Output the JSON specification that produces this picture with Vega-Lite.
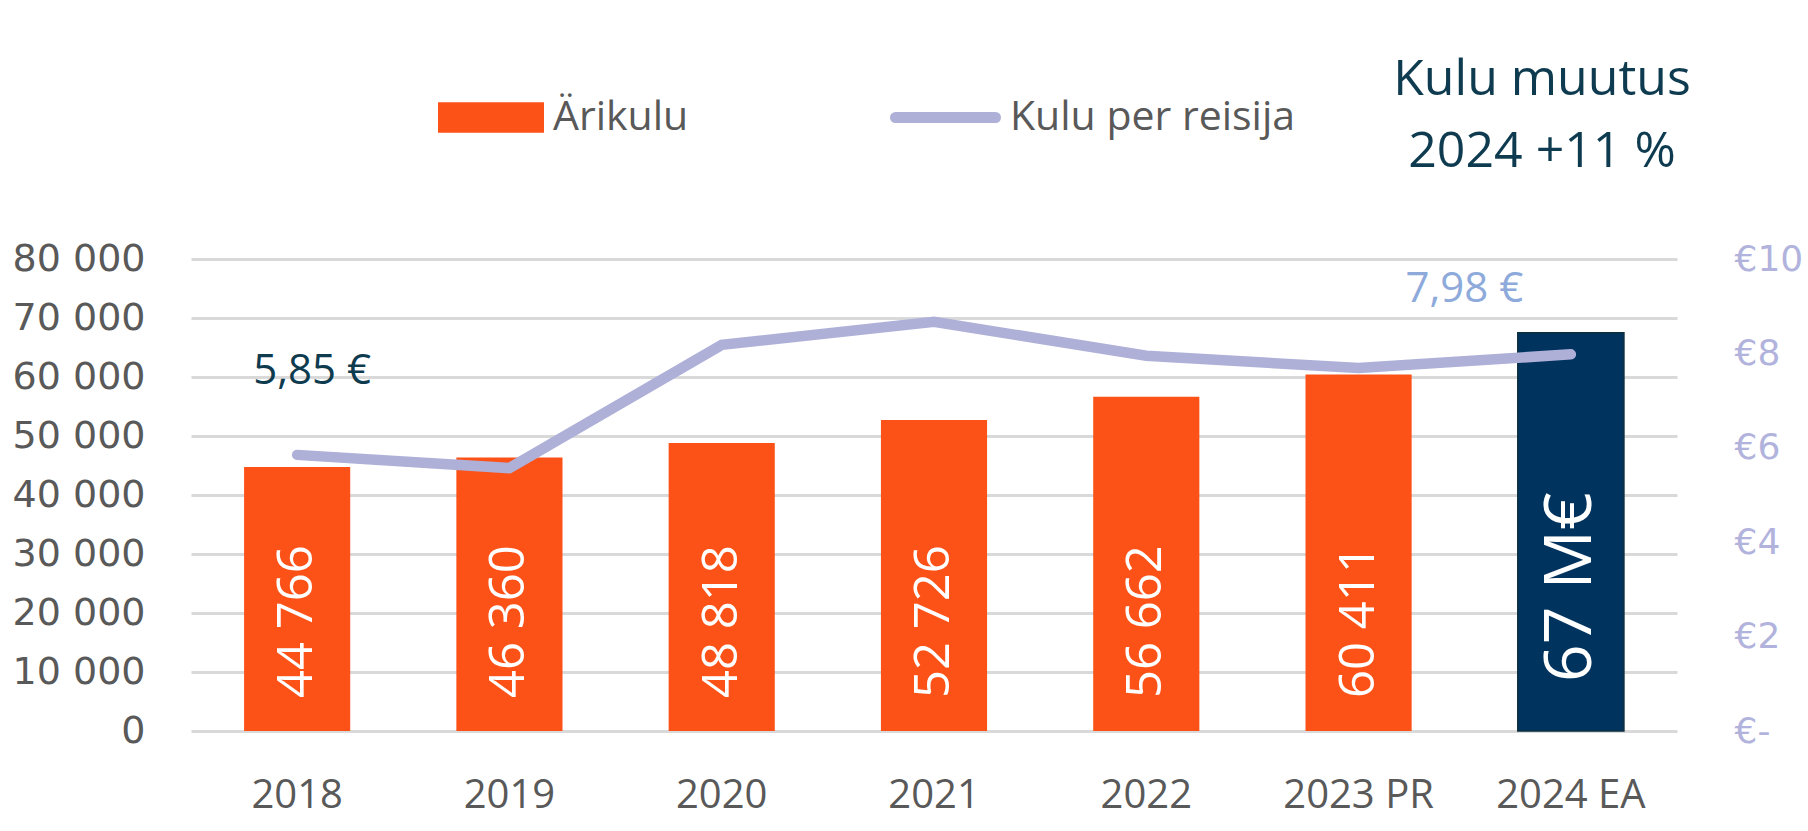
{
  "$schema": "https://vega.github.io/schema/vega-lite/v6.json",
  "autosize": {"type": "none"},
  "padding": {"left": 191, "top": 259, "right": 131, "bottom": 100},
  "width": 1486,
  "height": 472,
  "background": "white",
  "config": {
    "locale": {"number": {"decimal": ",", "thousands": " ", "grouping": [3], "currency": ["", " €"]}},
    "view": {"stroke": null}
  },
  "title": {
    "text": ["Kulu muutus", "2024 +11 %"],
    "anchor": "end",
    "frame": "group",
    "align": "center",
    "baseline": "bottom",
    "dx": -135,
    "dy": 165,
    "offset": 0,
    "font": "Open Sans",
    "fontSize": 50,
    "fontWeight": "normal",
    "color": "#0E3B4F",
    "lineHeight": 72
  },
  "data": {
    "values": [
      {"year": "2018", "arikulu": 44766, "per": 5.85},
      {"year": "2019", "arikulu": 46360, "per": 5.57},
      {"year": "2020", "arikulu": 48818, "per": 8.18},
      {"year": "2021", "arikulu": 52726, "per": 8.67},
      {"year": "2022", "arikulu": 56662, "per": 7.95},
      {"year": "2023 PR", "arikulu": 60411, "per": 7.69},
      {"year": "2024 EA", "arikulu": 67500, "per": 7.98}
    ]
  },
  "encoding": {
    "x": {
      "field": "year",
      "type": "nominal",
      "sort": null,
      "scale": {"paddingInner": 0.5, "paddingOuter": 0.25},
      "axis": {
        "title": null,
        "labelAngle": 0,
        "labelFont": "Open Sans",
        "labelFontSize": 40,
        "labelColor": "#595959",
        "labelPadding": 44,
        "ticks": false,
        "domain": false,
        "grid": false
      }
    }
  },
  "layer": [
    {
      "layer": [
        {
          "mark": {"type": "bar"},
          "encoding": {
            "y": {
              "field": "arikulu",
              "type": "quantitative",
              "scale": {"domain": [0, 80000]},
              "axis": {
                "title": null,
                "values": [0, 10000, 20000, 30000, 40000, 50000, 60000, 70000, 80000],
                "format": ",d",
                "labelFont": "DejaVu Sans",
                "labelFontSize": 38,
                "labelColor": "#595959",
                "labelPadding": 46,
                "ticks": false,
                "domain": false,
                "grid": true,
                "gridColor": "#D9D9D9",
                "gridWidth": 3
              }
            },
            "fill": {
              "datum": "Ärikulu",
              "type": "nominal",
              "scale": {"range": ["#FC5218"]},
              "legend": {
                "orient": "none",
                "legendX": 247,
                "legendY": -194.5,
                "title": null,
                "padding": 0,
                "symbolType": "M-1,-0.29H1V0.29H-1Z",
                "symbolSize": 11236,
                "symbolStrokeWidth": 0,
                "labelFont": "Open Sans",
                "labelFontSize": 41,
                "labelColor": "#595959",
                "labelOffset": 9,
                "labelLimit": 0
              }
            }
          }
        },
        {
          "transform": [{"filter": "datum.year == '2024 EA'"}],
          "mark": {"type": "bar", "fill": "#01335F", "stroke": "#0B2F3F", "strokeWidth": 1.5},
          "encoding": {"y": {"field": "arikulu", "type": "quantitative"}}
        },
        {
          "transform": [{"filter": "datum.year != '2024 EA'"}],
          "mark": {"type": "text", "angle": 270, "align": "left", "baseline": "middle", "dx": 33, "font": "Open Sans", "fontSize": 49, "fill": "white"},
          "encoding": {
            "y": {"datum": 0, "type": "quantitative"},
            "text": {"field": "arikulu", "type": "quantitative", "format": ",d"}
          }
        },
        {
          "transform": [{"filter": "datum.year == '2024 EA'"}],
          "mark": {"type": "text", "angle": 270, "align": "left", "baseline": "middle", "dx": 49, "font": "Open Sans", "fontSize": 66, "fill": "white"},
          "encoding": {
            "y": {"datum": 0, "type": "quantitative"},
            "text": {"value": "67 M€"}
          }
        }
      ]
    },
    {
      "layer": [
        {
          "mark": {"type": "line", "strokeWidth": 10.5, "strokeCap": "round"},
          "encoding": {
            "y": {
              "field": "per",
              "type": "quantitative",
              "scale": {"domain": [0, 10]},
              "axis": {
                "orient": "right",
                "title": null,
                "values": [0, 2, 4, 6, 8, 10],
                "labelExpr": "datum.value == 0 ? '€-' : '€' + datum.value",
                "labelFont": "DejaVu Sans",
                "labelFontSize": 36,
                "labelColor": "#B1B3DC",
                "labelPadding": 57,
                "ticks": false,
                "domain": false,
                "grid": false
              }
            },
            "stroke": {
              "datum": "Kulu per reisija",
              "type": "nominal",
              "scale": {"range": ["#AEB0D8"]},
              "legend": {
                "orient": "none",
                "legendX": 699,
                "legendY": -197,
                "title": null,
                "padding": 0,
                "symbolType": "stroke",
                "symbolSize": 10000,
                "symbolStrokeWidth": 11,
                "labelFont": "Open Sans",
                "labelFontSize": 41,
                "labelColor": "#595959",
                "labelOffset": 9,
                "labelLimit": 0,
                "encode": {"symbols": {"update": {"strokeCap": {"value": "round"}}}}
              }
            }
          }
        },
        {
          "transform": [{"filter": "datum.year == '2018'"}],
          "mark": {"type": "text", "align": "center", "baseline": "alphabetic", "dx": 15, "dy": -71, "font": "Open Sans", "fontSize": 42, "fill": "#0F3B4F"},
          "encoding": {
            "y": {"field": "per", "type": "quantitative"},
            "text": {"field": "per", "type": "quantitative", "format": "$.2f"}
          }
        },
        {
          "transform": [{"filter": "datum.year == '2024 EA'"}],
          "mark": {"type": "text", "align": "center", "baseline": "alphabetic", "dx": -106.5, "dy": -52, "font": "Open Sans", "fontSize": 42, "fill": "#8EAADB"},
          "encoding": {
            "y": {"field": "per", "type": "quantitative"},
            "text": {"field": "per", "type": "quantitative", "format": "$.2f"}
          }
        }
      ]
    }
  ],
  "resolve": {"scale": {"y": "independent"}}
}
